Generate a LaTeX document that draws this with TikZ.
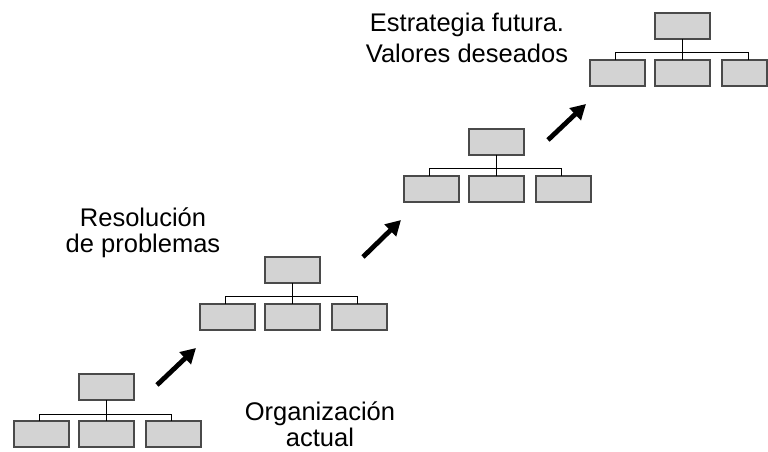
\documentclass[tikz,border=0pt]{standalone}
\usepackage{fontspec}
\setmainfont{Liberation Sans}
\usetikzlibrary{arrows.meta}
\definecolor{boxfill}{HTML}{D3D3D3}
\definecolor{boxline}{HTML}{4A4A4A}
\tikzset{
  orgbox/.style={draw=boxline, fill=boxfill, line width=1.3bp, inner sep=0pt, outer sep=0pt,
                 minimum width=55bp, minimum height=26bp},
  conn/.style={draw=black, line width=1bp},
  bigarrow/.style={line width=4.8bp, -{Triangle[length=15bp,width=16bp]}},
  lbl/.style={font=\fontsize{25.5bp}{26.5bp}\selectfont, align=center, inner sep=0pt}
}
\newcommand\orgchart[5]{%
  \node[orgbox] (#1t) at (#2+27.5,#3+13) {};
  \node[orgbox] (#1l) at (#2-37.5,#3+60) {};
  \node[orgbox] (#1m) at (#2+27.5,#3+60) {};
  \node[orgbox, minimum width=#4bp, anchor=west] (#1r) at (#2+67,#3+60) {};
  \draw[conn] (#1t.south) -- (#1m.north);
  \draw[conn] ([xshift=-2.5bp]#1l.north) -- ++(0,-7) -| ([xshift=#5bp]#1r.north);
}
\begin{document}
\begin{tikzpicture}[x=1bp,y=-1bp]
\useasboundingbox (0,0) rectangle (768,452);
\orgchart{a}{79}{374}{55}{-2}
\orgchart{b}{265}{257}{55}{-2}
\orgchart{c}{469}{129}{55}{-2}
\orgchart{d}{655}{13}{45}{3.5}
% arrows
\coordinate (a1s) at (157,385); \coordinate (a1e) at (196,348);
\coordinate (a2s) at (363,257); \coordinate (a2e) at (401,220);
\coordinate (a3s) at (548,140); \coordinate (a3e) at (586,104);
\draw[bigarrow] (a1s) -- (a1e);
\draw[bigarrow] (a2s) -- (a2e);
\draw[bigarrow] (a3s) -- (a3e);
% labels (base anchor = baseline of the last line)
\node[lbl, anchor=base] (lorg) at (320,446.5) {Organización\\actual};
\node[lbl, anchor=base] (lres) at (143,253) {Resolución\\de problemas};
\node[lbl, anchor=base, font=\fontsize{25.5bp}{31.5bp}\selectfont] (lest) at (467,63) {Estrategia futura.\\Valores deseados};
\end{tikzpicture}
\end{document}
